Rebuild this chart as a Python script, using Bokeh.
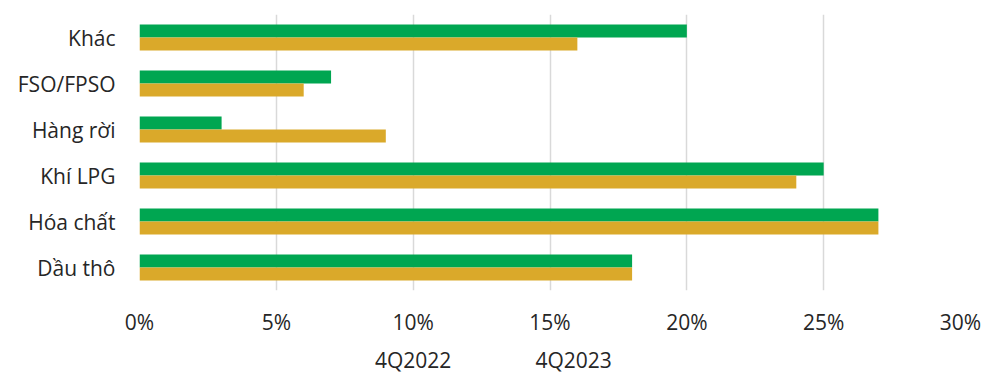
from bokeh.plotting import figure
from bokeh.layouts import column
from bokeh.models import ColumnDataSource, Range1d, FactorRange, FixedTicker, PrintfTickFormatter, Legend, LegendItem
from bokeh.transform import dodge
from bokeh.embed import file_html
from bokeh.resources import INLINE

categories = ["Khác", "FSO/FPSO", "Hàng rời", "Khí LPG", "Hóa chất", "Dầu thô"]
series_names = ["4Q2022", "4Q2023"]
values_2022 = [20, 7, 3, 25, 27, 18]
values_2023 = [16, 6, 9, 24, 27, 18]
x_ticks = [0, 5, 10, 15, 20, 25, 30]

GREEN = "#00A651"
GOLD = "#DAA92A"
FONT = "Open Sans"
TEXT = "#262626"

source = ColumnDataSource(data=dict(cat=categories, a=values_2022, b=values_2023))

p = figure(width=984, height=348, output_backend="svg", toolbar_location=None,
           y_range=FactorRange(factors=list(reversed(categories)), range_padding=0),
           x_range=Range1d(0, 30),
           min_border_left=139, min_border_right=24, min_border_top=14, min_border_bottom=58)

p.hbar(y=dodge("cat", 0.14, range=p.y_range), right="a", left=0, height=0.28,
       source=source, color=GREEN, line_color=None)
p.hbar(y=dodge("cat", -0.14, range=p.y_range), right="b", left=0, height=0.28,
       source=source, color=GOLD, line_color=None)

p.outline_line_color = None
p.ygrid.grid_line_color = None
p.xgrid.grid_line_color = "#d9d9d9"
p.xgrid.grid_line_width = 1.5

p.xaxis.ticker = FixedTicker(ticks=x_ticks)
p.xaxis.formatter = PrintfTickFormatter(format="%d%%")
for ax in (p.xaxis[0], p.yaxis[0]):
    ax.axis_line_color = None
    ax.major_tick_line_color = None
    ax.minor_tick_line_color = None
    ax.major_tick_out = 0
    ax.major_tick_in = 0
    ax.minor_tick_out = 0
    ax.minor_tick_in = 0
    ax.major_label_text_font = FONT
    ax.major_label_text_font_size = "21px"
    ax.major_label_text_color = TEXT
p.xaxis.major_label_standoff = 17
p.yaxis.major_label_standoff = 24

# legend strip below the chart; its key renderers carry no rows
key_source = ColumnDataSource(data=dict(cat=[], a=[], b=[]))
lg = figure(width=984, height=26, output_backend="svg", toolbar_location=None,
            x_range=Range1d(0, 30),
            y_range=FactorRange(factors=list(reversed(categories))),
            min_border=0)
lg.axis.visible = False
lg.grid.visible = False
lg.outline_line_color = None
g1 = lg.hbar(y="cat", right="a", left=0, height=0.28,
             source=key_source, color=GREEN, line_color=None)
g2 = lg.hbar(y="cat", right="b", left=0, height=0.28,
             source=key_source, color=GOLD, line_color=None)

legend = Legend(items=[LegendItem(label=series_names[0], renderers=[g1]),
                       LegendItem(label=series_names[1], renderers=[g2])],
                orientation="horizontal", location=(216, 0),
                glyph_width=12, glyph_height=12, label_standoff=8, spacing=64,
                padding=0, margin=0, border_line_alpha=0,
                label_text_font=FONT, label_text_font_size="21px", label_text_color=TEXT,
                background_fill_alpha=0)
lg.add_layout(legend)

layout = column(p, lg, spacing=0)
open("out.html", "w").write(file_html(layout, INLINE))
